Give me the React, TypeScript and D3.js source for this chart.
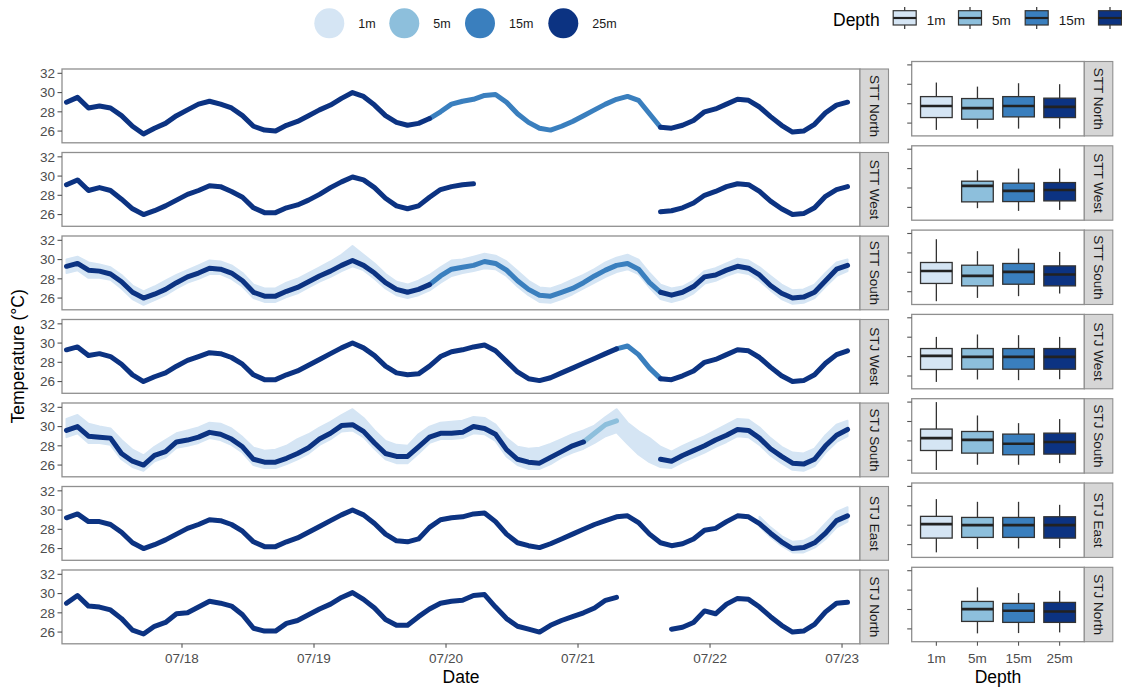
import React from "react";
import * as d3 from "d3";

const sites = ["STT North", "STT West", "STT South", "STJ West", "STJ South", "STJ East", "STJ North"];
const depths = ["1m", "5m", "15m", "25m"];
const depthColors = ["#d5e5f4", "#8dbfdc", "#3a7fbe", "#0c3382"];

const N_OBS = 72;
const firstObs = new Date(2019, 6, 17, 3);
const obsTimes = d3.range(N_OBS).map((i) => d3.timeHour.offset(firstObs, 2 * i));
const dayTicks = [18, 19, 20, 21, 22, 23].map((d) => new Date(2019, 6, d));

// ---- time series (deg C), each segment starts at obs index `from`
const sttNorth25a = [29.0, 29.5, 28.4, 28.6, 28.4, 27.6, 26.5, 25.7, 26.3, 26.8,
  27.6, 28.2, 28.8, 29.1, 28.8, 28.4, 27.6, 26.5, 26.1, 26.0,
  26.6, 27.0, 27.6, 28.2, 28.7, 29.4, 30.0, 29.6, 28.7, 27.6,
  26.9, 26.6, 26.8, 27.3];
const sttNorth15 = [27.3, 28.0, 28.8, 29.1, 29.3, 29.7, 29.8, 29.0, 27.8, 26.9,
  26.3, 26.1, 26.5, 27.0, 27.6, 28.2, 28.8, 29.3, 29.6, 29.2,
  27.8, 26.4];
const sttNorth25b = [26.4, 26.3, 26.6, 27.1, 28.0, 28.3, 28.8, 29.3, 29.2, 28.5,
  27.5, 26.6, 25.9, 26.0, 26.7, 27.9, 28.7, 29.0];

const sttWest25a = [29.1, 29.6, 28.5, 28.8, 28.5, 27.6, 26.6, 26.0, 26.4, 26.9,
  27.5, 28.1, 28.5, 29.0, 28.9, 28.4, 27.8, 26.7, 26.2, 26.2,
  26.7, 27.0, 27.5, 28.1, 28.8, 29.4, 29.9, 29.6, 28.8, 27.7,
  26.9, 26.6, 26.9, 27.8, 28.6, 28.9, 29.1, 29.2];
const sttWest25b = [26.3, 26.4, 26.7, 27.2, 28.0, 28.4, 28.9, 29.2, 29.1, 28.4,
  27.4, 26.6, 26.0, 26.1, 26.7, 27.9, 28.6, 28.9];

const sttSouth25a = [29.3, 29.6, 28.9, 28.8, 28.5, 27.7, 26.6, 26.0, 26.4, 26.9,
  27.6, 28.2, 28.6, 29.1, 29.0, 28.6, 27.8, 26.6, 26.2, 26.2,
  26.7, 27.1, 27.7, 28.3, 28.8, 29.4, 29.9, 29.4, 28.6, 27.6,
  26.9, 26.6, 26.9, 27.4];
const sttSouth15 = [27.4, 28.3, 29.0, 29.2, 29.4, 29.8, 29.6, 28.9, 27.8, 26.9,
  26.3, 26.2, 26.6, 27.0, 27.6, 28.3, 28.9, 29.4, 29.6, 29.0,
  27.6, 26.6];
const sttSouth25b = [26.6, 26.3, 26.6, 27.2, 28.2, 28.4, 28.9, 29.3, 29.1, 28.4,
  27.3, 26.5, 26.0, 26.1, 26.6, 27.8, 29.0, 29.4];
// 1m logger is noisy: spread of its trace in each 2 h window
const sttSouth1Hi = [30.0, 30.3, 29.7, 29.5, 29.2, 28.4, 27.3, 26.7, 27.2, 27.8,
  28.4, 28.9, 29.4, 29.9, 29.8, 29.4, 28.6, 27.4, 27.0, 27.0,
  27.6, 28.0, 28.6, 29.2, 29.8, 30.5, 31.4, 30.5, 29.6, 28.5,
  27.7, 27.4, 27.8, 28.4, 29.2, 29.9, 30.0, 30.3, 30.6, 30.4,
  29.8, 28.8, 27.8, 27.1, 27.0, 27.4, 27.9, 28.4, 29.0, 29.7,
  30.2, 30.5, 30.0, 28.6, 27.4, 27.0, 27.2, 27.8, 28.8, 29.1,
  29.6, 30.1, 29.9, 29.2, 28.3, 27.4, 26.8, 26.9, 27.4, 28.6,
  29.7, 30.0];
const sttSouth1Lo = [28.6, 28.9, 28.1, 28.1, 27.9, 27.0, 25.9, 25.3, 25.8, 26.3,
  27.0, 27.6, 28.0, 28.5, 28.5, 28.0, 27.2, 26.0, 25.6, 25.6,
  26.1, 26.5, 27.1, 27.7, 28.2, 28.8, 29.3, 28.9, 28.0, 27.0,
  26.3, 26.0, 26.3, 26.8, 27.6, 28.3, 28.6, 28.8, 29.1, 29.0,
  28.3, 27.2, 26.3, 25.6, 25.5, 25.9, 26.4, 27.0, 27.6, 28.2,
  28.7, 29.0, 28.5, 27.1, 25.9, 25.6, 25.9, 26.5, 27.5, 27.8,
  28.3, 28.7, 28.5, 27.8, 26.8, 25.9, 25.4, 25.5, 26.0, 27.2,
  28.3, 28.8];

const stjWest25a = [29.3, 29.6, 28.7, 28.9, 28.6, 27.8, 26.7, 26.0, 26.5, 26.9,
  27.6, 28.2, 28.6, 29.0, 28.9, 28.5, 27.8, 26.7, 26.2, 26.2,
  26.7, 27.1, 27.7, 28.3, 28.9, 29.5, 30.0, 29.5, 28.7, 27.6,
  26.9, 26.7, 26.8, 27.6, 28.6, 29.1, 29.3, 29.6, 29.8, 29.2,
  28.1, 27.0, 26.3, 26.1, 26.4, 26.9, 27.4, 27.9, 28.4, 28.9,
  29.4];
const stjWest15 = [29.4, 29.7, 28.8, 27.4, 26.3];
const stjWest25b = [26.3, 26.2, 26.6, 27.1, 28.0, 28.3, 28.8, 29.3, 29.2, 28.5,
  27.5, 26.6, 26.0, 26.1, 26.7, 27.9, 28.8, 29.2];

const stjSouth25a = [29.6, 30.0, 29.0, 28.9, 28.8, 27.2, 26.4, 26.0, 27.0, 27.4,
  28.4, 28.6, 28.9, 29.4, 29.2, 28.7, 27.9, 26.6, 26.3, 26.3,
  26.7, 27.2, 27.8, 28.7, 29.3, 30.1, 30.2, 29.5, 28.3, 27.2,
  26.9, 26.9, 27.9, 28.9, 29.3, 29.3, 29.4, 30.0, 29.8, 29.2,
  27.6, 26.6, 26.3, 26.2, 26.8, 27.4, 28.0, 28.4];
const stjSouth5 = [28.4, 29.3, 30.2, 30.6];
const stjSouth25b = [26.6, 26.4, 27.0, 27.5, 28.0, 28.6, 29.1, 29.7, 29.6, 28.8,
  27.7, 26.9, 26.2, 26.1, 26.6, 28.0, 29.1, 29.7];
const stjSouth1Hi = [30.8, 31.2, 30.3, 30.0, 29.8, 28.6, 27.6, 27.0, 27.9, 28.6,
  29.3, 29.6, 29.9, 30.4, 30.3, 29.8, 28.9, 27.8, 27.5, 27.6,
  28.0, 28.7, 29.2, 29.9, 30.5, 31.2, 31.8, 30.9, 29.6, 28.5,
  28.1, 28.0, 29.2, 30.0, 30.4, 30.5, 30.6, 31.0, 30.9, 30.2,
  28.8, 27.9, 27.7, 27.8, 28.2, 28.7, 29.2, 29.6, 30.1, 31.0,
  31.8, 30.4, 29.5, 28.8, 27.9, 27.4, 28.0, 28.5, 29.0, 29.6,
  30.2, 30.8, 30.7, 29.9, 28.8, 27.9, 27.3, 27.2, 27.7, 29.1,
  30.2, 30.6];
const stjSouth1Lo = [28.9, 29.3, 28.3, 28.3, 28.1, 26.6, 25.8, 25.4, 26.4, 26.8,
  27.8, 28.0, 28.3, 28.8, 28.6, 28.1, 27.3, 26.0, 25.7, 25.7,
  26.1, 26.6, 27.2, 28.1, 28.7, 29.5, 29.6, 28.9, 27.7, 26.6,
  26.2, 26.2, 27.2, 28.3, 28.7, 28.7, 28.8, 29.3, 29.2, 28.5,
  26.9, 26.0, 25.6, 25.6, 26.1, 26.8, 27.3, 27.7, 28.3, 29.0,
  29.4, 28.2, 27.1, 26.3, 25.8, 25.7, 26.3, 26.8, 27.3, 27.9,
  28.4, 29.0, 28.9, 28.1, 27.0, 26.2, 25.5, 25.4, 25.9, 27.3,
  28.4, 29.0];

const stjEast25 = [29.2, 29.6, 28.8, 28.8, 28.5, 27.7, 26.6, 26.0, 26.4, 26.9,
  27.5, 28.1, 28.5, 29.0, 28.9, 28.5, 27.8, 26.7, 26.2, 26.2,
  26.7, 27.1, 27.7, 28.3, 28.9, 29.5, 30.0, 29.5, 28.6, 27.5,
  26.8, 26.7, 27.0, 28.2, 29.0, 29.2, 29.3, 29.6, 29.7, 28.8,
  27.5, 26.6, 26.3, 26.1, 26.5, 27.0, 27.5, 28.0, 28.5, 28.9,
  29.3, 29.4, 28.7, 27.5, 26.6, 26.3, 26.5, 27.0, 27.9, 28.1,
  28.8, 29.4, 29.3, 28.6, 27.6, 26.7, 26.0, 26.1, 26.6, 27.6,
  28.9, 29.4];
const stjEast1Hi = [29.3, 28.2, 27.3, 26.7, 26.8, 27.4, 28.6, 29.8, 30.3];
const stjEast1Lo = [28.3, 27.2, 26.3, 25.6, 25.6, 26.1, 27.0, 28.2, 28.8];

const stjNorth25a = [29.0, 29.8, 28.7, 28.6, 28.3, 27.4, 26.2, 25.8, 26.6, 27.0,
  27.9, 28.0, 28.6, 29.2, 29.0, 28.7, 27.8, 26.4, 26.1, 26.1,
  26.9, 27.2, 27.8, 28.4, 28.9, 29.6, 30.1, 29.4, 28.5, 27.3,
  26.7, 26.7, 27.6, 28.4, 29.0, 29.2, 29.3, 29.8, 29.9, 28.6,
  27.4, 26.6, 26.3, 26.0, 26.7, 27.2, 27.6, 28.0, 28.5, 29.3,
  29.6];
const stjNorth25b = [26.3, 26.5, 27.0, 28.2, 27.9, 28.9, 29.5, 29.4, 28.6, 27.6,
  26.7, 26.0, 26.1, 26.8, 28.1, 29.0, 29.1];

// site index, depth index, first obs index, values
const lineSegments = [
  { site: 0, depth: 3, from: 0, values: sttNorth25a },
  { site: 0, depth: 2, from: 33, values: sttNorth15 },
  { site: 0, depth: 3, from: 54, values: sttNorth25b },
  { site: 1, depth: 3, from: 0, values: sttWest25a },
  { site: 1, depth: 3, from: 54, values: sttWest25b },
  { site: 2, depth: 3, from: 0, values: sttSouth25a },
  { site: 2, depth: 2, from: 33, values: sttSouth15 },
  { site: 2, depth: 3, from: 54, values: sttSouth25b },
  { site: 3, depth: 3, from: 0, values: stjWest25a },
  { site: 3, depth: 2, from: 50, values: stjWest15 },
  { site: 3, depth: 3, from: 54, values: stjWest25b },
  { site: 4, depth: 3, from: 0, values: stjSouth25a },
  { site: 4, depth: 1, from: 47, values: stjSouth5 },
  { site: 4, depth: 3, from: 54, values: stjSouth25b },
  { site: 5, depth: 3, from: 0, values: stjEast25 },
  { site: 6, depth: 3, from: 0, values: stjNorth25a },
  { site: 6, depth: 3, from: 55, values: stjNorth25b },
];
const shallowBands = [
  { site: 2, from: 0, lo: sttSouth1Lo, hi: sttSouth1Hi },
  { site: 4, from: 0, lo: stjSouth1Lo, hi: stjSouth1Hi },
  { site: 5, from: 63, lo: stjEast1Lo, hi: stjEast1Hi },
];

// ---- box stats per site: [lower whisker, q1, median, q3, upper whisker] for 1m,5m,15m,25m
const boxSttNorth = [[25.3, 26.57, 27.77, 28.73, 30.18], [25.43, 26.4, 27.54, 28.53, 29.76], [25.43, 26.64, 27.77, 28.73, 30.11], [25.43, 26.57, 27.67, 28.57, 30.01]];
const boxSttWest = [null, [25.92, 26.57, 28.22, 28.7, 29.83], [25.64, 26.6, 27.7, 28.5, 30.0], [25.74, 26.67, 27.8, 28.56, 30.0]];
const boxSttSouth = [[25.02, 26.85, 28.14, 29.01, 31.41], [25.36, 26.6, 27.63, 28.73, 30.18], [25.54, 26.77, 28.04, 28.91, 30.45], [25.81, 26.6, 27.77, 28.66, 30.1]];
const boxStjWest = [[25.39, 26.67, 28.07, 28.83, 30.03], [25.64, 26.7, 27.97, 28.83, 30.28], [25.57, 26.7, 27.97, 28.83, 30.21], [25.67, 26.7, 27.97, 28.83, 30.03]];
const boxStjSouth = [[25.0, 27.01, 28.29, 29.22, 32.0], [25.54, 26.74, 28.11, 28.97, 30.62], [25.54, 26.57, 27.7, 28.7, 29.83], [25.71, 26.64, 27.88, 28.8, 30.25]];
const boxStjEast = [[25.2, 26.67, 28.11, 28.91, 30.69], [25.54, 26.74, 28.01, 28.8, 30.41], [25.6, 26.74, 28.01, 28.8, 30.41], [25.64, 26.67, 28.01, 28.87, 30.1]];
const boxStjNorth = [null, [25.54, 26.77, 28.04, 28.83, 30.28], [25.57, 26.67, 27.87, 28.63, 29.69], [25.64, 26.67, 27.8, 28.73, 29.93]];
const boxStats = [boxSttNorth, boxSttWest, boxSttSouth, boxStjWest, boxStjSouth, boxStjEast, boxStjNorth];

const yTicks = [26, 28, 30, 32];

const FONT = "'Liberation Sans', Arial, Helvetica, sans-serif";
const BORDER = "#8f8f8f";
const TICK_FS = 13.5;
const TITLE_FS = 17.5;

// layout
const LX0 = 62, LX1 = 860, LTOP = 69, LSTEP = 83.5, LPH = 73.8;
const BX0 = 911.7, BX1 = 1084.3, BTOP = 61.5, BSTEP = 84.3, BPH = 74.4;
const STRIP_W = 28.5;

function Strip({ x, h, label }: { x: number; h: number; label: string }) {
  return (
    <g>
      <rect x={x} y={0} width={STRIP_W} height={h} fill="#d6d6d6" stroke={BORDER} strokeWidth={1.1} />
      <text
        transform={`translate(${x + STRIP_W / 2},${h / 2}) rotate(90)`}
        textAnchor="middle"
        dominantBaseline="central"
        fontSize={TICK_FS}
        fill="#1a1a1a"
      >
        {label}
      </text>
    </g>
  );
}

export default function App() {
  const x = d3.scaleTime()
    .domain([new Date(2019, 6, 17, 2, 11), new Date(2019, 6, 23, 3, 16)])
    .range([LX0, LX1]);
  const y = d3.scaleLinear().domain([24.78, 32.45]).range([LPH, 0]);
  const bx = d3.scalePoint<string>().domain(depths).range([BX0, BX1]).padding(0.6);
  const by = d3.scaleLinear().domain([24.68, 32.35]).range([BPH, 0]);
  const boxW = bx.step() * 0.77;

  const line = (from: number) =>
    d3.line<number>()
      .x((_, j) => x(obsTimes[from + j]))
      .y((v) => y(v));
  const band = (from: number, hi: number[]) =>
    d3.area<number>()
      .x((_, j) => x(obsTimes[from + j]))
      .y0((v) => y(v))
      .y1((_, j) => y(hi[j]));

  const fmt = d3.timeFormat("%m/%d");
  const lastTop = LTOP + LSTEP * (sites.length - 1);
  const lastBTop = BTOP + BSTEP * (sites.length - 1);

  return (
    <svg
      width={1122}
      height={688}
      style={{ position: "absolute", left: 0, top: 0, background: "#fff" }}
      fontFamily={FONT}
    >
      {/* colour legend */}
      {depths.map((d, i) => {
        const cx = [329.3, 404.3, 480, 563.3][i];
        return (
          <g key={d}>
            <circle cx={cx} cy={23.3} r={15} fill={depthColors[i]} />
            <text x={cx + 29} y={28.3} fontSize={12.5} fill="#1a1a1a">{d}</text>
          </g>
        );
      })}

      {/* fill legend */}
      <text x={833} y={26} fontSize={TITLE_FS} fill="#000">Depth</text>
      {depths.map((d, i) => {
        const cx = [904.7, 970, 1036.7, 1110][i];
        return (
          <g key={d}>
            <line x1={cx} x2={cx} y1={7} y2={29} stroke="#333" strokeWidth={1.2} />
            <rect x={cx - 11.5} y={10.7} width={23} height={14.3} fill={depthColors[i]} stroke="#333" strokeWidth={1.2} />
            <line x1={cx - 11.5} x2={cx + 11.5} y1={18} y2={18} stroke="#222" strokeWidth={2.2} />
            {i < 3 && <text x={cx + 22} y={25} fontSize={TICK_FS} fill="#1a1a1a">{d}</text>}
          </g>
        );
      })}

      {/* time series panels */}
      {sites.map((s, si) => (
        <g key={s} transform={`translate(0,${LTOP + LSTEP * si})`}>
          <rect x={LX0} y={0} width={LX1 - LX0} height={LPH} fill="#fff" />
          {shallowBands.filter((b) => b.site === si).map((b, k) => (
            <path key={k} d={band(b.from, b.hi)(b.lo) || ""} fill={depthColors[0]} stroke={depthColors[0]} strokeWidth={2} strokeLinejoin="round" />
          ))}
          {lineSegments
            .filter((g) => g.site === si)
            .sort((a, b) => a.depth - b.depth)
            .map((g, k) => (
              <path
                key={k}
                d={line(g.from)(g.values) || ""}
                fill="none"
                stroke={depthColors[g.depth]}
                strokeWidth={5}
                strokeLinejoin="round"
                strokeLinecap="round"
              />
            ))}
          <rect x={LX0} y={0} width={LX1 - LX0} height={LPH} fill="none" stroke={BORDER} strokeWidth={1.3} />
          {yTicks.map((t) => (
            <g key={t}>
              <line x1={LX0 - 4.5} x2={LX0} y1={y(t)} y2={y(t)} stroke="#555" strokeWidth={1.1} />
              <text x={LX0 - 7} y={y(t)} dy="0.36em" textAnchor="end" fontSize={TICK_FS} fill="#4d4d4d">{t}</text>
            </g>
          ))}
          <Strip x={LX1} h={LPH} label={s} />
        </g>
      ))}

      {/* date axis */}
      {dayTicks.map((d) => (
        <g key={+d}>
          <line x1={x(d)} x2={x(d)} y1={lastTop + LPH} y2={lastTop + LPH + 4} stroke="#555" strokeWidth={1.1} />
          <text x={x(d)} y={663} textAnchor="middle" fontSize={TICK_FS} fill="#4d4d4d">{fmt(d)}</text>
        </g>
      ))}
      <text x={(LX0 + LX1) / 2} y={683} textAnchor="middle" fontSize={TITLE_FS} fill="#000">Date</text>
      <text
        transform={`translate(24,${(LTOP + lastTop + LPH) / 2}) rotate(-90)`}
        textAnchor="middle"
        fontSize={TITLE_FS}
        fill="#000"
      >
        Temperature (°C)
      </text>

      {/* box plot panels */}
      {sites.map((s, si) => (
        <g key={s} transform={`translate(0,${BTOP + BSTEP * si})`}>
          <rect x={BX0} y={0} width={BX1 - BX0} height={BPH} fill="#fff" />
          {boxStats[si].map((st, di) => {
            if (!st) return null;
            const cx = bx(depths[di]) as number;
            const [lo, q1, med, q3, hi] = st;
            return (
              <g key={di}>
                <line x1={cx} x2={cx} y1={by(hi)} y2={by(q3)} stroke="#333" strokeWidth={1.3} />
                <line x1={cx} x2={cx} y1={by(q1)} y2={by(lo)} stroke="#333" strokeWidth={1.3} />
                <rect x={cx - boxW / 2} y={by(q3)} width={boxW} height={by(q1) - by(q3)} fill={depthColors[di]} stroke="#333" strokeWidth={1.3} />
                <line x1={cx - boxW / 2} x2={cx + boxW / 2} y1={by(med)} y2={by(med)} stroke="#222" strokeWidth={2.6} />
              </g>
            );
          })}
          <rect x={BX0} y={0} width={BX1 - BX0} height={BPH} fill="none" stroke={BORDER} strokeWidth={1.3} />
          {yTicks.map((t) => (
            <line key={t} x1={BX0 - 4.5} x2={BX0} y1={by(t)} y2={by(t)} stroke="#555" strokeWidth={1.1} />
          ))}
          <Strip x={BX1} h={BPH} label={s} />
        </g>
      ))}
      {depths.map((d) => (
        <g key={d}>
          <line x1={bx(d)} x2={bx(d)} y1={lastBTop + BPH} y2={lastBTop + BPH + 4} stroke="#555" strokeWidth={1.1} />
          <text x={bx(d)} y={663} textAnchor="middle" fontSize={TICK_FS} fill="#4d4d4d">{d}</text>
        </g>
      ))}
      <text x={(BX0 + BX1) / 2} y={682.5} textAnchor="middle" fontSize={TITLE_FS} fill="#000">Depth</text>
    </svg>
  );
}
